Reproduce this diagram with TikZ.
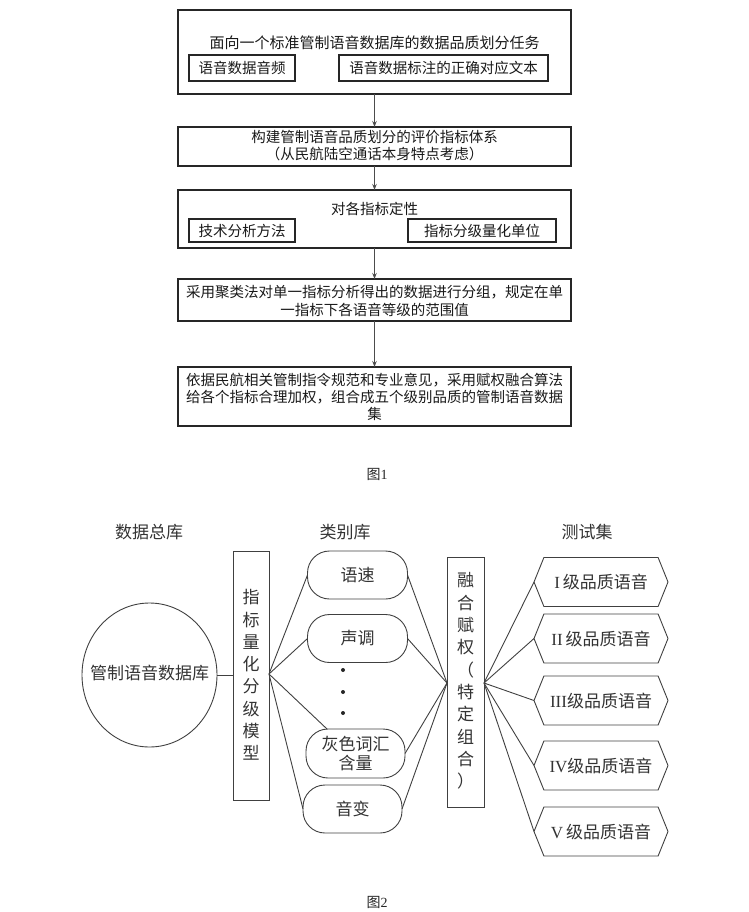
\documentclass[tikz,border=0pt]{standalone}
\usepackage{fontspec}
\setmainfont{Noto Sans CJK SC}
\newfontfamily\serifnum{Liberation Serif}
\usetikzlibrary{shapes.geometric,shapes.symbols,arrows.meta}
\begin{document}
\begin{tikzpicture}[x=1pt,y=-1pt,
  box/.style={draw=black!85, line width=1.1pt, inner sep=0pt, outer sep=0pt},
  ftxt/.style={font=\fontsize{14.5}{17.3}\selectfont, inner sep=0pt, align=center, text=black!90},
  arr/.style={draw=black!70, line width=1pt, -{Stealth[length=6pt,width=4.5pt]}},
  gline/.style={draw=black!75, line width=0.9pt},
  gtxt/.style={font=\fontsize{17}{19}\selectfont, inner sep=0pt, text=black!80, align=center},
  vbox/.style={draw=black!75, line width=0.9pt, inner sep=0pt, outer sep=0pt, minimum width=36pt},
  vtxt/.style={font=\fontsize{17}{22.3}\selectfont, inner sep=0pt, text=black!80, align=center},
  stad/.style={draw=black!75, line width=0.9pt, rounded corners=22pt, minimum width=100pt, minimum height=48pt, inner sep=0pt, outer sep=0pt, font=\fontsize{17}{18.5}\selectfont, text=black!80, align=center},
  hexa/.style={draw=black!75, line width=0.9pt, signal, signal to=west and east, signal pointer angle=136, minimum width=134pt, minimum height=49pt, inner sep=0pt, outer sep=0pt, font=\fontsize{17}{19}\selectfont, text=black!80},
  dotn/.style={circle, fill=black!85, inner sep=0pt, minimum size=4pt},
  figcap/.style={font=\fontsize{14}{16}\selectfont, inner sep=0pt, text=black!85}
]
\useasboundingbox (0,0) rectangle (748,912);
% ---------------- Figure 1 ----------------
\node[box, minimum width=393pt, minimum height=84pt] (b1) at (374.5,52) {};
\node[ftxt, font=\fontsize{15}{17}\selectfont] (b1t) at (374.5,43) {面向一个标准管制语音数据库的数据品质划分任务};
\node[box, minimum width=106pt, minimum height=26pt, ftxt] (b1a) at (242,68) {语音数据音频};
\node[box, minimum width=209pt, minimum height=26pt, ftxt] (b1b) at (443.5,68) {语音数据标注的正确对应文本};

\node[box, minimum width=393pt, minimum height=39pt] (b2) at (374.5,146.5) {};
\node[ftxt] (b2t) at (374.5,145.5) {构建管制语音品质划分的评价指标体系\\（从民航陆空通话本身特点考虑）};

\node[box, minimum width=393pt, minimum height=58pt] (b3) at (374.5,219) {};
\node[ftxt] (b3t) at (374.5,209) {对各指标定性};
\node[box, minimum width=106pt, minimum height=23pt, ftxt] (b3a) at (242,230.5) {技术分析方法};
\node[box, minimum width=148pt, minimum height=23pt, ftxt] (b3b) at (482,230.5) {指标分级量化单位};

\node[box, minimum width=393pt, minimum height=42pt] (b4) at (374.5,300) {};
\node[ftxt, font=\fontsize{14.5}{18.3}\selectfont] (b4t) at (374.5,301) {采用聚类法对单一指标分析得出的数据进行分组，规定在单\\一指标下各语音等级的范围值};

\node[box, minimum width=393pt, minimum height=59pt] (b5) at (374.5,396.5) {};
\node[ftxt, font=\fontsize{14.5}{16.7}\selectfont] (b5t) at (374.5,397) {依据民航相关管制指令规范和专业意见，采用赋权融合算法\\给各个指标合理加权，组合成五个级别品质的管制语音数据\\集};

\draw[arr] (b1) -- (b2);
\draw[arr] (b2) -- (b3);
\draw[arr] (b3) -- (b4);
\draw[arr] (b4) -- (b5);

\node[figcap] (cap1) at (377,474) {图{\serifnum 1}};

% ---------------- Figure 2 ----------------
\node[gtxt] (l1) at (149,532) {数据总库};
\node[gtxt] (l2) at (345,532) {类别库};
\node[gtxt] (l3) at (587,532) {测试集};

\node[ellipse, draw=black!75, line width=0.9pt, minimum width=135pt, minimum height=144pt, inner sep=0pt, outer sep=0pt] (db) at (149.5,675) {};
\node[gtxt] (dbt) at (149.5,673) {管制语音数据库};

\node[vbox, minimum height=249pt] (mdl) at (251,675.5) {};
\node[vtxt] (mdlt) at (251,675) {指\\标\\量\\化\\分\\级\\模\\型};

\node[stad] (s1) at (357.5,575) {语速};
\node[stad] (s2) at (357.5,638.5) {声调};
\node[dotn] (d1) at (343,670) {};
\node[dotn] (d2) at (343,692) {};
\node[dotn] (d3) at (343,713) {};
\node[stad, minimum width=99pt, minimum height=49pt] (s3) at (355.5,753.5) {灰色词汇\\含量};
\node[stad, minimum width=99pt] (s4) at (352.5,809) {音变};

\node[vbox, minimum width=37pt, minimum height=250pt] (fus) at (465.5,682) {};
\node[vtxt] (fust) at (465.5,681) {融\\合\\赋\\权\\（\\特\\定\\组\\合\\）};

\node[hexa] (h1) at (601,582) {{\serifnum I}\,级品质语音};
\node[hexa] (h2) at (601,638.5) {{\serifnum II}\,级品质语音};
\node[hexa] (h3) at (601,700.5) {{\serifnum III}级品质语音};
\node[hexa] (h4) at (601,765.5) {{\serifnum IV}级品质语音};
\node[hexa] (h5) at (601,831.5) {{\serifnum V}\,级品质语音};

\coordinate (mr) at (269,674);
\coordinate (fl) at (447,683);
\coordinate (fr) at (484,683);

\draw[gline] (db.east) -- (mdl.west |- db.east);
\draw[gline] (mr) -- (s1.west);
\draw[gline] (mr) -- (s2.west);
\draw[gline] (mr) -- ([xshift=21pt]s3.north west);
\draw[gline] (mr) -- (s4.west);
\draw[gline] (s1.east) -- (fl);
\draw[gline] (s2.east) -- (fl);
\draw[gline] (s3.east) -- (fl);
\draw[gline] (s4.east) -- (fl);
\draw[gline] (fr) -- (h1.west);
\draw[gline] (fr) -- (h2.west);
\draw[gline] (fr) -- (h3.west);
\draw[gline] (fr) -- (h4.west);
\draw[gline] (fr) -- (h5.west);

\node[figcap] (cap2) at (377,902) {图{\serifnum 2}};
\end{tikzpicture}
\end{document}
